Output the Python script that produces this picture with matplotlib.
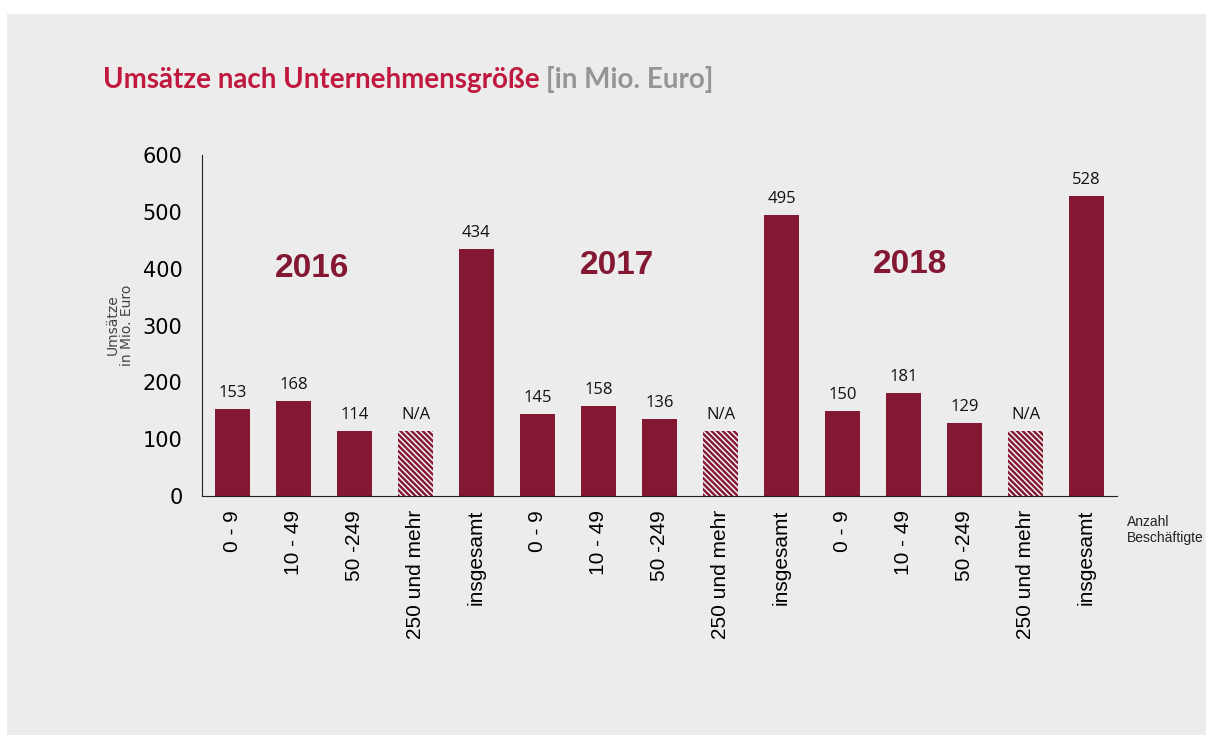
import matplotlib.pyplot as plt
from matplotlib.patches import Rectangle

# data
categories = ["0 - 9", "10 - 49", "50 -249", "250 und mehr", "insgesamt"] * 3
values = [153, 168, 114, 115, 434,
          145, 158, 136, 115, 495,
          150, 181, 129, 115, 528]
labels = ["153", "168", "114", "N/A", "434",
          "145", "158", "136", "N/A", "495",
          "150", "181", "129", "N/A", "528"]
missing = [False, False, False, True, False] * 3
years = ["2016", "2017", "2018"]
year_pos = [(1.3, 400), (6.3, 405), (11.1, 408)]

bar_color = "#841832"
bg = "#ececec"

fig = plt.figure(figsize=(12.06, 7.35), dpi=100)
fig.patch.set_facecolor("white")
fig.patches.append(Rectangle((7 / 1206, 0), 1, 1 - 14 / 735,
                             transform=fig.transFigure, facecolor=bg,
                             edgecolor="none", zorder=-10))

ax = fig.add_axes([202 / 1206, 1 - 496 / 735, (1117 - 202) / 1206, (496 - 155) / 735])
ax.set_facecolor(bg)

plt.rcParams['hatch.linewidth'] = 1.1
for i, (v, lab, na) in enumerate(zip(values, labels, missing)):
    if na:
        ax.bar(i, v, width=0.56, color=bar_color, edgecolor="#f4f4f4",
               hatch="\\\\\\\\\\\\", linewidth=0)
    else:
        ax.bar(i, v, width=0.56, color=bar_color, linewidth=0)
    ax.text(i, v + 14, lab, ha="center", va="bottom", fontsize=12,
            family="Open Sans", color="#111111")

for y, (px, py) in zip(years, year_pos):
    ax.text(px, py, y, ha="center", va="center", fontsize=24,
            fontweight="bold", family="Liberation Sans", color=bar_color)

ax.set_xlim(-0.5, 14.5)
ax.set_ylim(0, 600)
ax.set_yticks(range(0, 601, 100))
ax.tick_params(axis="y", length=0, labelsize=15, pad=14)
ax.set_xticks(range(len(categories)))
ax.set_xticklabels(categories, rotation=90, fontsize=15, family="Liberation Sans")
ax.tick_params(axis="x", length=0, pad=10)
for s in ["top", "right"]:
    ax.spines[s].set_visible(False)
ax.spines["left"].set_color("#222222")
ax.spines["bottom"].set_color("#222222")

fig.text(120 / 1206, 1 - 325 / 735, "Umsätze\nin Mio. Euro", rotation=90,
         ha="center", va="center", fontsize=10, color="#444444",
         linespacing=1.0)
fig.text(1127 / 1206, 1 - 530 / 735, "Anzahl\nBeschäftigte", ha="left",
         va="center", fontsize=10, family="Liberation Sans", color="#222222")

t1 = fig.text(103 / 1206, 1 - 88 / 735, "Umsätze nach Unternehmensgröße ",
              fontsize=20, fontweight="bold", family="Lato", color="#c0183e")
fig.canvas.draw()
bb = t1.get_window_extent()
fig.text(bb.x1 / 1206, 1 - 88 / 735, "[in Mio. Euro]", fontsize=20,
         fontweight="bold", family="Lato", color="#959595")

fig.savefig("out.png", dpi=100, facecolor=fig.get_facecolor())
